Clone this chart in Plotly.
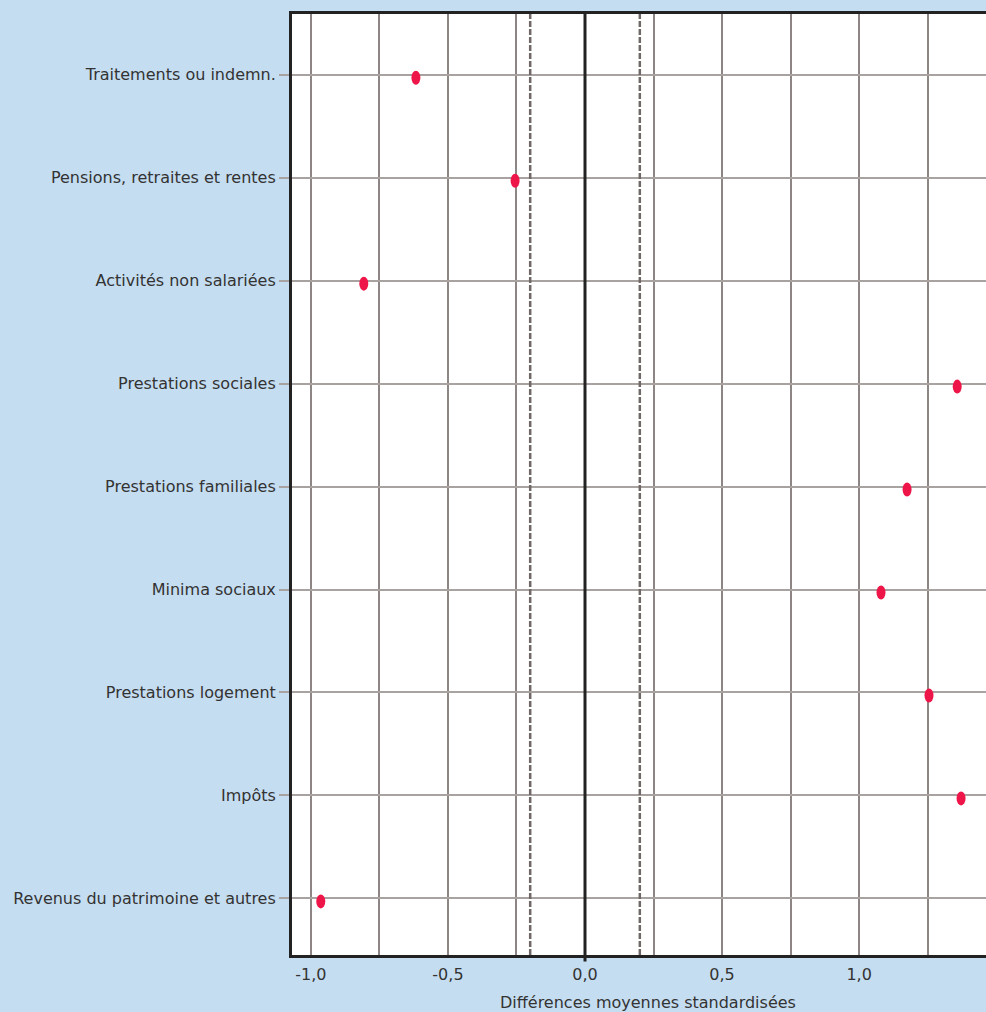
import plotly.graph_objects as go

# Catégories (de haut en bas) et différences moyennes standardisées
categories = [
    "Traitements ou indemn.",
    "Pensions, retraites et rentes",
    "Activités non salariées",
    "Prestations sociales",
    "Prestations familiales",
    "Minima sociaux",
    "Prestations logement",
    "Impôts",
    "Revenus du patrimoine et autres",
]
smd_values = [-0.617, -0.255, -0.807, 1.358, 1.175, 1.080, 1.255, 1.372, -0.964]

x_tick_values = [-1.0, -0.5, 0.0, 0.5, 1.0]
x_tick_labels = ["-1,0", "-0,5", "0,0", "0,5", "1,0"]
threshold = 0.2

positions = list(range(len(categories)))

fig = go.Figure()

# trace invisible pour fixer les axes / infobulles
fig.add_trace(go.Scatter(
    x=smd_values, y=positions, mode="markers",
    marker=dict(size=10, color="rgba(0,0,0,0)"),
    text=categories, hovertemplate="%{text}: %{x:.2f}<extra></extra>",
    showlegend=False,
))

# lignes de référence
for v in (-threshold, threshold):
    fig.add_shape(type="line", xref="x", yref="paper", x0=v, x1=v, y0=0, y1=1,
                  line=dict(color="#6f6867", width=2.5, dash="6px,2px"), layer="above")
fig.add_shape(type="line", xref="x", yref="paper", x0=0, x1=0, y0=-0.007, y1=1,
              line=dict(color="#222222", width=3), layer="above")

# points elliptiques
for xv, yv in zip(smd_values, positions):
    fig.add_shape(type="circle", xref="x", yref="y", xsizemode="pixel", ysizemode="pixel",
                  xanchor=xv, yanchor=yv, x0=-4.5, x1=4.5, y0=-10, y1=4,
                  fillcolor="#ee1548", line=dict(width=0), layer="above")

fig.update_xaxes(
    range=[-1.069, 1.463],
    tickvals=x_tick_values, ticktext=x_tick_labels,
    showgrid=True, gridcolor="#8d8684", gridwidth=1.5,
    minor=dict(dtick=0.25, tick0=0, showgrid=True, gridcolor="#8d8684", gridwidth=1.5),
    showline=True, linecolor="#222222", linewidth=3, mirror=True,
    ticks="outside", ticklen=3, tickcolor="rgba(0,0,0,0)", zeroline=False,
    tickfont=dict(size=16, color="#333333"),
)
fig.update_yaxes(
    range=[8.55, -0.59],
    tickvals=positions, ticktext=categories,
    showgrid=True, gridcolor="#a8a2a0", gridwidth=1.5,
    showline=True, linecolor="#222222", linewidth=3, mirror=False,
    ticks="outside", ticklen=10, tickcolor="#a8a2a0", tickwidth=1.5,
    zeroline=False,
    tickfont=dict(size=16, color="#333333"),
)

fig.add_annotation(
    text="Différences moyennes standardisées", xref="paper", yref="paper",
    x=0.513, y=-0.05, xanchor="center", yanchor="middle", showarrow=False,
    font=dict(size=16, color="#333333"),
)

fig.update_layout(
    width=986, height=1012,
    margin=dict(l=292, r=0, t=14, b=57),
    paper_bgcolor="#c5ddf1", plot_bgcolor="white",
    font=dict(family="DejaVu Sans, sans-serif", color="#333333"),
)

fig.write_html("out.html", config={"displayModeBar": False},
               post_script="document.body.style.margin='0';")
